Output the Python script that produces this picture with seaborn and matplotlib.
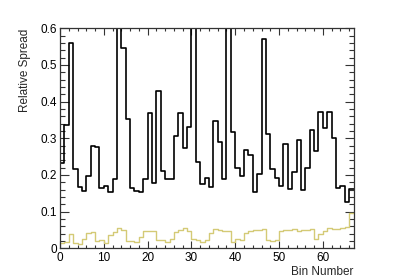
import numpy as np
import pandas as pd
import matplotlib
matplotlib.use("Agg")
import matplotlib.pyplot as plt
import seaborn as sns
from matplotlib.ticker import MultipleLocator

# ---- data ----
bin_edges = list(range(0, 68))
black_values = [0.232, 0.336, 0.560, 0.216, 0.168, 0.156, 0.198, 0.279, 0.277, 0.164,
                0.171, 0.154, 0.189, 0.750, 0.547, 0.353, 0.164, 0.157, 0.153, 0.188,
                0.370, 0.177, 0.430, 0.211, 0.189, 0.190, 0.306, 0.370, 0.273, 0.330,
                0.850, 0.236, 0.175, 0.191, 0.168, 0.348, 0.289, 0.189, 0.800, 0.318,
                0.220, 0.198, 0.268, 0.254, 0.153, 0.202, 0.571, 0.312, 0.216, 0.191,
                0.171, 0.284, 0.162, 0.207, 0.296, 0.160, 0.218, 0.323, 0.265, 0.373,
                0.329, 0.373, 0.302, 0.165, 0.171, 0.127, 0.162]
yellow_values = [0.015, 0.017, 0.040, 0.015, 0.013, 0.025, 0.042, 0.045, 0.019, 0.022,
                 0.015, 0.035, 0.045, 0.055, 0.051, 0.019, 0.021, 0.017, 0.030, 0.046,
                 0.048, 0.046, 0.022, 0.022, 0.016, 0.026, 0.045, 0.049, 0.056, 0.048,
                 0.026, 0.023, 0.017, 0.024, 0.042, 0.053, 0.049, 0.048, 0.048, 0.017,
                 0.025, 0.022, 0.042, 0.048, 0.051, 0.051, 0.054, 0.024, 0.021, 0.022,
                 0.046, 0.049, 0.049, 0.054, 0.048, 0.050, 0.051, 0.053, 0.025, 0.039,
                 0.046, 0.055, 0.054, 0.054, 0.055, 0.058, 0.095]
x_ticks = [0, 10, 20, 30, 40, 50, 60]
y_ticks = [0, 0.1, 0.2, 0.3, 0.4, 0.5, 0.6]
y_tick_labels = ["0", "0.1", "0.2", "0.3", "0.4", "0.5", "0.6"]

centers = [e + 0.5 for e in bin_edges[:-1]]
df = pd.DataFrame({"bin": centers, "black": black_values, "yellow": yellow_values})

sns.set_style("white")
plt.rcParams["font.family"] = ["Liberation Sans", "DejaVu Sans"]

fig = plt.figure(figsize=(4.07, 2.77), dpi=100)
ax = fig.add_axes([60 / 407, 1 - 248.3 / 277, 293.5 / 407, 220 / 277])

sns.histplot(data=df, x="bin", weights="yellow", bins=bin_edges, element="step",
             fill=False, color="#d4ca76", linewidth=1.0, ax=ax)
sns.histplot(data=df, x="bin", weights="black", bins=bin_edges, element="step",
             fill=False, color="black", linewidth=1.2, ax=ax)

ax.set_xlim(0, 67)
ax.set_ylim(0, 0.6)
ax.set_xticks(x_ticks)
ax.set_xticklabels([str(t) for t in x_ticks])
ax.set_yticks(y_ticks)
ax.set_yticklabels(y_tick_labels)
ax.xaxis.set_minor_locator(MultipleLocator(2))
ax.yaxis.set_minor_locator(MultipleLocator(0.02))

ax.tick_params(axis="x", which="major", direction="in", length=5, width=0.8,
               top=True, bottom=True, labelsize=8.5, pad=3, colors="#333333",
               labelcolor="black")
ax.tick_params(axis="x", which="minor", direction="in", length=2.5, width=0.8,
               top=True, bottom=True, colors="#333333")
ax.tick_params(axis="y", which="major", direction="in", length=6.5, width=0.8,
               left=True, right=True, labelsize=8.5, pad=2, colors="#333333",
               labelcolor="black")
ax.tick_params(axis="y", which="minor", direction="in", length=3.3, width=0.8,
               left=True, right=True, colors="#333333")

for s in ax.spines.values():
    s.set_visible(True)
    s.set_color("#333333")
    s.set_linewidth(0.9)

ax.set_xlabel("Bin Number", loc="right", fontsize=8.5)
ax.set_ylabel("Relative Spread", loc="top", fontsize=8.5)
ax.xaxis.set_label_coords(1.0, -0.08)
ax.yaxis.set_label_coords(-0.10, 1.0)

fig.savefig("out.png", dpi=100)
